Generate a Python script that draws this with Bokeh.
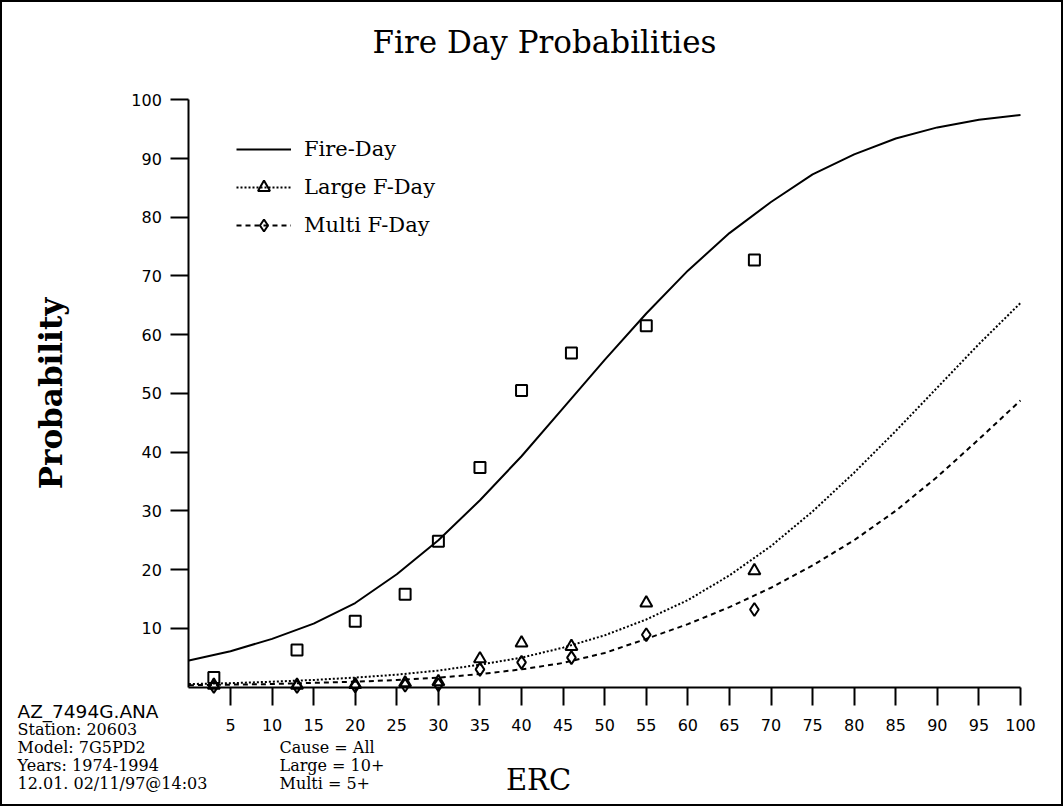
from bokeh.plotting import figure
from bokeh.models import Range1d, FixedTicker, Legend, LegendItem
from bokeh.core.properties import value
from bokeh.embed import file_html
from bokeh.resources import INLINE

# ---- data ----
erc_curve = [0, 5, 10, 15, 20, 25, 30, 35, 40, 45, 50, 55, 60, 65, 70, 75, 80, 85, 90, 95, 100]
fire_curve = [4.5, 6.1, 8.2, 10.8, 14.3, 19.2, 25.0, 31.8, 39.3, 47.5, 55.7, 63.6, 70.9,
              77.3, 82.6, 87.3, 90.7, 93.4, 95.3, 96.6, 97.4]
large_curve = [0.5, 0.65, 0.9, 1.2, 1.6, 2.1, 2.8, 3.8, 5.0, 6.7, 8.8, 11.5, 14.8,
               19.0, 24.0, 29.9, 36.5, 43.6, 51.0, 58.4, 65.4]
multi_curve = [0.3, 0.4, 0.5, 0.7, 0.9, 1.2, 1.6, 2.2, 3.0, 4.1, 5.8, 8.2, 10.7,
               13.6, 16.9, 20.7, 25.0, 30.0, 35.8, 42.2, 48.8]

erc_obs = [3, 13, 20, 26, 30, 35, 40, 46, 55, 68]
fire_obs = [1.6, 6.3, 11.2, 15.8, 24.8, 37.4, 50.5, 56.9, 61.5, 72.7]
large_obs = [0.3, 0.3, 0.4, 0.7, 0.9, 4.8, 7.5, 6.9, 14.3, 19.8]
multi_obs = [0.1, 0.1, 0.2, 0.3, 0.4, 3.0, 4.2, 5.0, 8.9, 13.2]

x_ticks = [5, 10, 15, 20, 25, 30, 35, 40, 45, 50, 55, 60, 65, 70, 75, 80, 85, 90, 95, 100]
y_ticks = [10, 20, 30, 40, 50, 60, 70, 80, 90, 100]

title_text = "Fire Day Probabilities"
x_label = "ERC"
y_label = "Probability"
series_names = ["Fire-Day", "Large F-Day", "Multi F-Day"]
info_lines = ["AZ_7494G.ANA", "Station:  20603", "Model: 7G5PD2", "Years: 1974-1994",
              "12.01. 02/11/97@14:03"]
criteria_lines = ["Cause = All", "Large = 10+", "Multi = 5+"]

SERIF = "DejaVu Serif"
SANS = "DejaVu Sans"
W, H = 1063, 806

# page-pixel layout of the reference: where ERC 0 / probability 0 sit and px per unit
X0_PX, X_PX_PER = 188.4, 8.316
Y0_PX, Y_PX_PER = 686.5, 5.872


def dx(px):
    return (px - X0_PX) / X_PX_PER


def dy(py):
    return (Y0_PX - py) / Y_PX_PER


# the frame covers the whole canvas; axes sit at ERC 0 / probability 0
p = figure(width=W, height=H, output_backend="svg", toolbar_location=None,
           x_range=Range1d(dx(0), dx(W)), y_range=Range1d(dy(H), dy(0)),
           min_border=0, min_border_left=0, min_border_right=0,
           min_border_top=0, min_border_bottom=0)
p.outline_line_color = "black"
p.outline_line_width = 3
p.background_fill_color = "white"
p.border_fill_color = "white"
p.xgrid.visible = False
p.ygrid.visible = False

for ax in (p.xaxis[0], p.yaxis[0]):
    ax.fixed_location = 0
    ax.bounds = (0, 100)
    ax.axis_line_width = 2
    ax.axis_line_color = "black"
    ax.major_tick_line_width = 2
    ax.major_tick_line_color = "black"
    ax.major_tick_in = 0
    ax.major_tick_out = 18
    ax.minor_tick_line_color = None
    ax.major_label_text_font = SANS
    ax.major_label_text_font_size = "16px"
    ax.major_label_text_color = "black"

p.xaxis.ticker = FixedTicker(ticks=x_ticks)
p.yaxis.ticker = FixedTicker(ticks=y_ticks)
p.xaxis.major_label_standoff = 14
p.yaxis.major_label_standoff = 9

p.yaxis.axis_label = y_label
p.yaxis.axis_label_text_font = SERIF
p.yaxis.axis_label_text_font_style = "bold"
p.yaxis.axis_label_text_font_size = "31px"
p.yaxis.axis_label_text_color = "black"
p.yaxis.axis_label_standoff = 59

# curves
r_fire = p.line(erc_curve, fire_curve, line_color="black", line_width=2)
r_large = p.line(erc_curve, large_curve, line_color="black", line_width=2, line_dash="2 2")
r_multi = p.line(erc_curve, multi_curve, line_color="black", line_width=2, line_dash="5 4")

# observed points
s_fire = p.scatter(erc_obs, fire_obs, marker="square", size=11, fill_color=None,
                   line_color="black", line_width=2)
s_large = p.scatter(erc_obs, large_obs, marker="triangle", size=12, fill_color=None,
                    line_color="black", line_width=2)
s_multi = p.scatter(erc_obs, multi_obs, marker="diamond", size=13, fill_color=None,
                    line_color="black", line_width=2)

legend = Legend(items=[LegendItem(label=series_names[0], renderers=[r_fire]),
                       LegendItem(label=series_names[1], renderers=[r_large, s_large]),
                       LegendItem(label=series_names[2], renderers=[r_multi, s_multi])],
                location=(236, H - 240), orientation="vertical",
                glyph_width=55, glyph_height=30, label_height=30, spacing=8,
                padding=0, margin=0, label_standoff=13,
                border_line_color=None, background_fill_alpha=0,
                label_text_font=SERIF, label_text_font_size="21px",
                label_text_color="black")
p.add_layout(legend)

# title
p.text(x=[dx(544)], y=[dy(41)], text=[title_text], text_font=value(SERIF),
       text_font_size=value("31px"), text_align="center", text_baseline="middle",
       text_color="black")

# x axis title placed off-centre as in the reference
p.text(x=[dx(538)], y=[dy(779)], text=[x_label], text_font=value(SERIF),
       text_font_size=value("29px"), text_align="center", text_baseline="middle",
       text_color="black")

# info block bottom-left
info_y = [711, 729, 747, 765, 783]
p.text(x=[dx(17)], y=[dy(info_y[0])], text=[info_lines[0]], text_font=value(SANS),
       text_font_size=value("18.5px"), text_align="left", text_baseline="middle",
       text_color="black")
p.text(x=[dx(17)] * 4, y=[dy(v) for v in info_y[1:]], text=info_lines[1:],
       text_font=value(SERIF), text_font_size=value("16px"), text_align="left",
       text_baseline="middle", text_color="black")
p.text(x=[dx(279)] * 3, y=[dy(v) for v in info_y[2:]], text=criteria_lines,
       text_font=value(SERIF), text_font_size=value("16px"), text_align="left",
       text_baseline="middle", text_color="black")

open("out.html", "w").write(file_html(p, INLINE))
